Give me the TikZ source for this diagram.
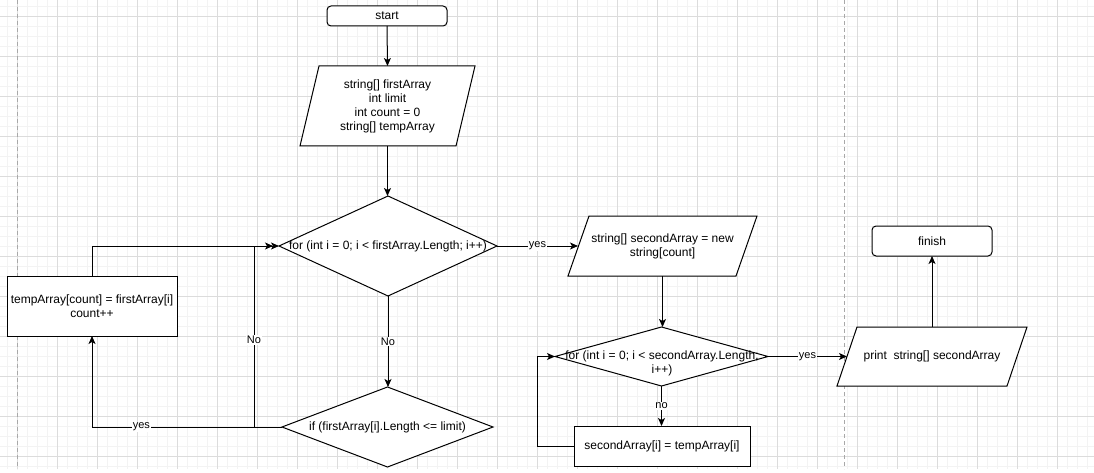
\documentclass[tikz,border=0pt]{standalone}
\usepackage{fontspec}
\setmainfont{Liberation Sans}
\usetikzlibrary{arrows.meta,shapes.geometric,calc}
\definecolor{gridminor}{HTML}{F3F3F3}
\definecolor{gridmajor}{HTML}{DCDCDC}
\definecolor{pagebreak}{HTML}{A8A8A8}
\pgfdeclarelayer{grid}
\pgfdeclarelayer{shapes}
\pgfsetlayers{grid,shapes,main}
% slanted input/output box drawn around a named placeholder node
\newcommand{\ioshape}[2]{%
  \begin{pgfonlayer}{shapes}
    \draw[line width=1pt, fill=white]
      (#1.south west) -- ($(#1.north west)+(#2,0)$) -- (#1.north east)
      -- ($(#1.south east)+(-#2,0)$) -- cycle;
  \end{pgfonlayer}}
\begin{document}
\begin{tikzpicture}[x=1pt,y=-1pt,
  every node/.style={font=\fontsize{12}{14}\selectfont, text=black},
  base/.style={inner sep=0pt, outer sep=0pt, align=center},
  terminal/.style={base, draw, line width=1pt, rounded corners=4pt, fill=white},
  process/.style={base, draw, line width=1pt, fill=white},
  iobox/.style={base},
  decision/.style={base, diamond, draw, line width=1pt, fill=white},
  flow/.style={line width=1pt, -{Stealth[length=8pt,width=7pt,inset=2pt]}},
  lbl/.style={fill=white, inner sep=1pt, font=\fontsize{11}{13}\selectfont}
]
\useasboundingbox (0,0) rectangle (1094,473);

% background grid and page breaks
\begin{pgfonlayer}{grid}
  \fill[white] (0,0) rectangle (1094,473);
  \foreach \x in {7,17,...,1087} \draw[gridminor, line width=0.7pt] (\x,0) -- (\x,469);
  \foreach \y in {6,16,...,466} \draw[gridminor, line width=0.7pt] (0,\y) -- (1094,\y);
  \foreach \x in {17,57,...,1057} \draw[gridmajor, line width=0.8pt] (\x,0) -- (\x,469);
  \foreach \y in {16,56,...,456} \draw[gridmajor, line width=0.8pt] (0,\y) -- (1094,\y);
  \foreach \x in {17,844} \draw[pagebreak, line width=0.8pt, dash pattern=on 4pt off 3pt] (\x,0) -- (\x,469);
\end{pgfonlayer}

% nodes
\node[terminal, minimum width=120pt, minimum height=20pt] (start) at (387,16) {start};
\node[iobox, minimum width=175pt, minimum height=80pt] (p1) at (387.5,106)
  {string[] firstArray\\int limit\\int count = 0\\string[] tempArray};
\ioshape{p1}{19}

\node[decision, minimum width=218pt, minimum height=100pt] (d1) at (388,246) {};
\node[base] (d1t) at (d1.center) {for (int i = 0; i < firstArray.Length; i++)};

\node[decision, minimum width=211pt, minimum height=80pt] (ifd) at (387.5,427) {};
\node[base] (ifdt) at (ifd.center) {if (firstArray[i].Length <= limit)};

\node[process, minimum width=170pt, minimum height=60pt] (box1) at (92,306)
  {tempArray[count] = firstArray[i]\\count++};

\node[iobox, minimum width=189pt, minimum height=60pt] (p2) at (662.5,246)
  {string[] secondArray = new\\string[count]};
\ioshape{p2}{21}

\node[decision, minimum width=213pt, minimum height=59pt] (d2) at (661.5,356.5) {};
\node[base] (d2t) at (662,363) {for (int i = 0; i < secondArray.Length;\\i++)};

\node[process, minimum width=176pt, minimum height=40pt] (box2) at (662,446)
  {secondArray[i] = tempArray[i]};

\node[iobox, minimum width=190pt, minimum height=59pt] (pr) at (932,356.5)
  {print\ \ string[] secondArray};
\ioshape{pr}{20}

\node[terminal, minimum width=120pt, minimum height=30pt] (fin) at (932,241) {finish};

% routing points
\coordinate (nb) at (254,0);
\coordinate (lp) at (537,0);

% connectors
\draw[flow] (start.south) -- (p1.north);
\draw[flow] (p1.south) -- (p1.south |- d1.north);
\draw[flow] (d1.south) -- node[lbl]{No} (d1.south |- ifd.north);
\draw[flow] (ifd.west) -| node[lbl, pos=0.37]{yes} (box1.south);
\draw[flow] (ifd.west) -- (ifd.west -| nb) -- node[lbl, pos=0.48]{No} (nb |- d1.west) -- (d1.west);
\draw[flow, shorten >=6pt] (box1.north) |- (d1.west);
\draw[flow] (d1.east) -- node[lbl]{yes} ($(p2.west)+(10,0)$);
\draw[flow] (p2.south) -- (p2.south |- d2.north);
\draw[flow] (d2.south) -- node[lbl]{no} (d2.south |- box2.north);
\draw[flow] (box2.west) -- (box2.west -| lp) -- (lp |- d2.west) -- (d2.west);
\draw[flow] (d2.east) -- node[lbl]{yes} ($(pr.west)+(10,0)$);
\draw[flow] (pr.north) -- (fin.south);
\end{tikzpicture}
\end{document}
